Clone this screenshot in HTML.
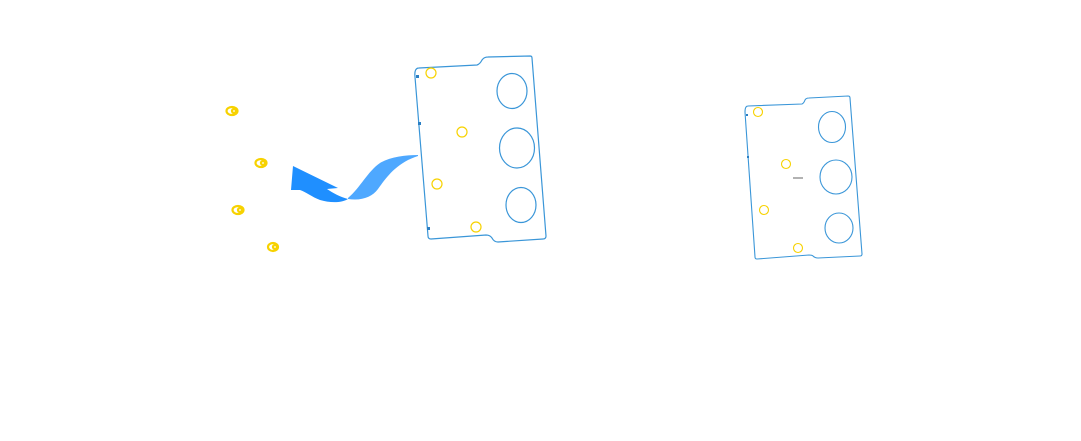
<!DOCTYPE html>
<html><head><meta charset="utf-8"><style>
html,body{margin:0;padding:0;background:#fff;}
svg{display:block;}
</style></head><body>
<svg width="1081" height="441" viewBox="0 0 1081 441" xmlns="http://www.w3.org/2000/svg">
<rect width="1081" height="441" fill="#fff"/>
<!-- screws -->
<g fill="none" stroke="#f7d200" stroke-width="2.2">
  <ellipse cx="232" cy="111" rx="5.5" ry="4"/>
  <ellipse cx="234" cy="111" rx="2" ry="2"/>
  <ellipse cx="261" cy="163" rx="5.5" ry="4"/>
  <ellipse cx="263" cy="163" rx="2" ry="2"/>
  <ellipse cx="238" cy="210" rx="5.5" ry="4"/>
  <ellipse cx="240" cy="210" rx="2" ry="2"/>
  <ellipse cx="273" cy="247" rx="5" ry="4"/>
  <ellipse cx="275" cy="247" rx="2" ry="2"/>
</g>
<!-- arrow -->
<path d="M418,155 C405,155 390,157 380,163 C368,171 360,188 348,198 L348,199 C362,201 372,197 378,189 C386,178 396,163 418,156 Z" fill="#4ea8ff"/>
<path d="M293,166 L338,188 L327,189 C333,193 340,197 348,199 C342,203 330,203 320,200 C312,197 306,192 300,190 L291,190 Z" fill="#1f8fff"/>
<!-- left module -->
<g fill="none" stroke="#3a96d8" stroke-width="1.2">
  <path d="M419,68 L477,65 Q480,64 482,60 Q484,57 488,57 L530,56 Q532,56 532,58 L546,236 Q546,239 543,239 L498,242 Q494,242 492,238 Q490,235 486,235 L431,239 Q428,239 428,236 L415,77 Q414,68 419,68 Z"/>
  <ellipse cx="512" cy="91" rx="15" ry="17.5"/>
  <ellipse cx="517" cy="148" rx="17.5" ry="20"/>
  <ellipse cx="521" cy="205" rx="15" ry="17.5"/>
</g>
<g fill="#2a7fc4">
  <rect x="416" y="75" width="3" height="3"/>
  <rect x="418" y="122" width="3" height="3"/>
  <rect x="427" y="227" width="3" height="3"/>
</g>
<g fill="none" stroke="#f7d200" stroke-width="1.2">
  <circle cx="431" cy="73" r="5"/>
  <circle cx="462" cy="132" r="5"/>
  <circle cx="437" cy="184" r="5"/>
  <circle cx="476" cy="227" r="5"/>
</g>
<!-- right module -->
<g fill="none" stroke="#3a96d8" stroke-width="1.1">
  <path d="M748,106 L802,104 Q804,103 805,100 Q806,98 809,98 L848,96 Q850,96 850,98 L862,254 Q862,256 860,256 L818,258 Q815,258 813,256 Q812,255 809,255 L757,259 Q755,259 755,257 L745,112 Q745,106 748,106 Z"/>
  <ellipse cx="832" cy="127" rx="13.5" ry="15.5"/>
  <ellipse cx="836" cy="177" rx="16" ry="17"/>
  <ellipse cx="839" cy="228" rx="14" ry="15"/>
</g>
<g fill="#2a7fc4">
  <rect x="746" y="114" width="2" height="2"/>
  <rect x="747" y="156" width="2" height="2"/>
</g>
<line x1="793" y1="178" x2="803" y2="178" stroke="#666" stroke-width="1"/>
<g fill="none" stroke="#f7d200" stroke-width="1.1">
  <circle cx="758" cy="112" r="4.5"/>
  <circle cx="786" cy="164" r="4.5"/>
  <circle cx="764" cy="210" r="4.5"/>
  <circle cx="798" cy="248" r="4.5"/>
</g>
</svg>
</body></html>
